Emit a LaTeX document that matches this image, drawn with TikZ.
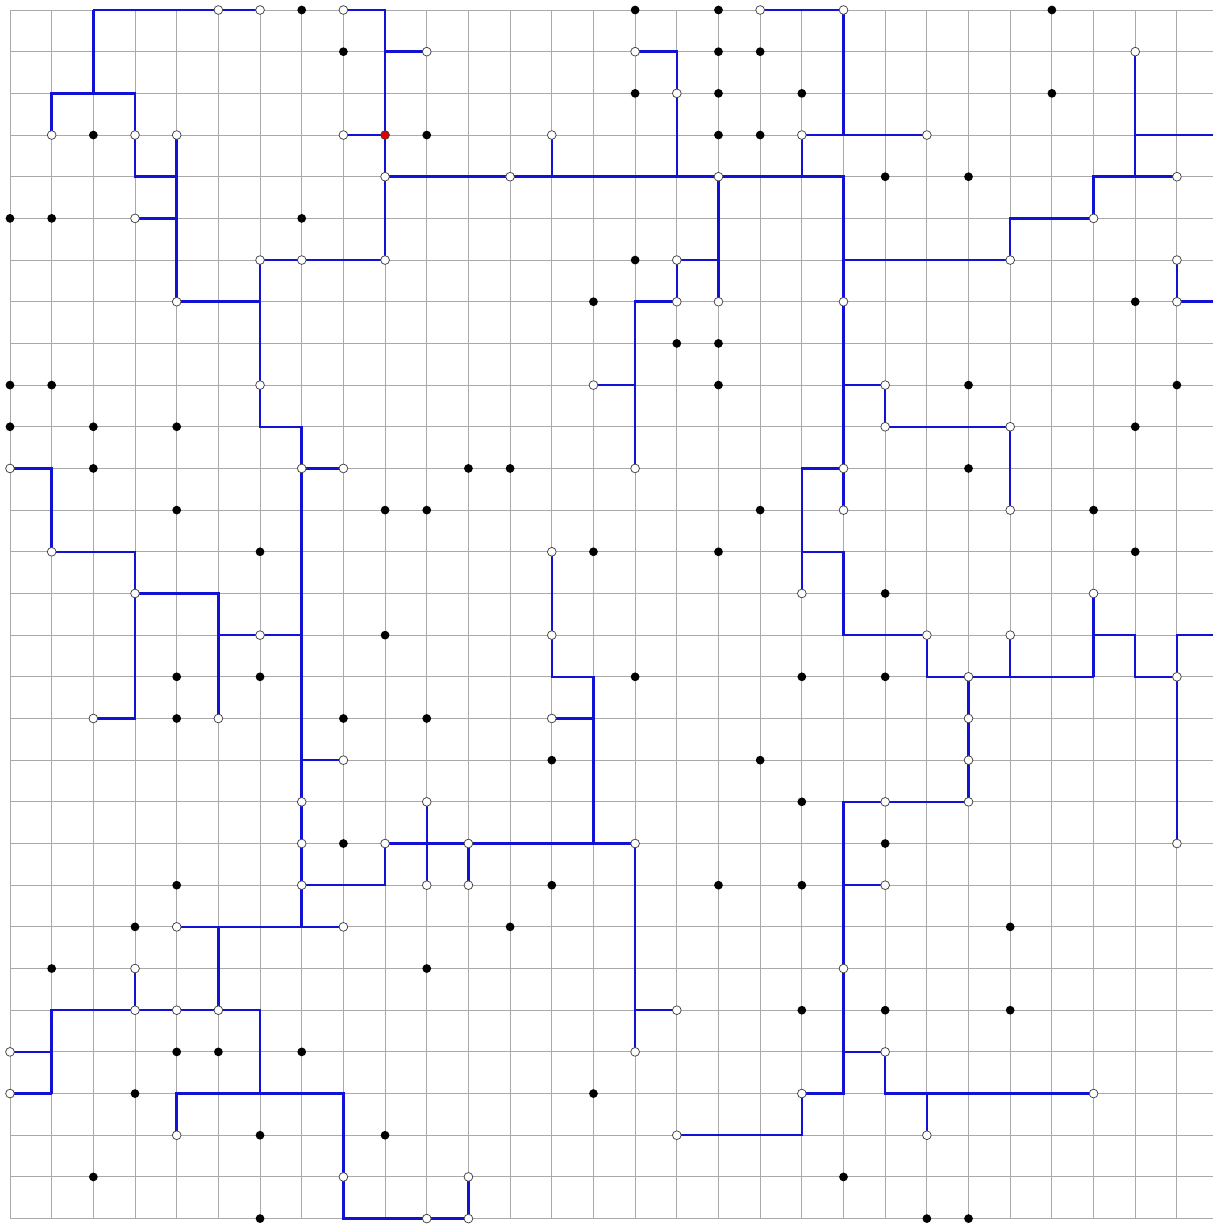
\documentclass[tikz,border=0pt]{standalone}
\begin{document}
\definecolor{gridgray}{RGB}{170,170,170}
\definecolor{pathblue}{RGB}{18,18,215}
\definecolor{dotred}{RGB}{225,0,0}
\begin{tikzpicture}[
  gridline/.style={draw=gridgray, line width=0.6pt},
  bl/.style={draw=pathblue, line width=1.7pt},
  wdot/.style={circle, inner sep=0pt, minimum size=0.21cm, draw=black!75, line width=0.5pt, fill=white},
  bdot/.style={circle, inner sep=0pt, minimum size=0.21cm, fill=black},
  rdot/.style={circle, inner sep=0pt, minimum size=0.21cm, draw=black!75, line width=0.5pt, fill=dotred}
]
\useasboundingbox (-0.24,0.24) rectangle (28.87,-29.13);
\fill[white] (-0.24,0.24) rectangle (28.87,-29.13);
% grid coordinates
\foreach \c in {0,...,28} {
  \foreach \r in {0,...,29} {
    \coordinate (g\c-\r) at (\c,-\r);
  }
}
\foreach \r in {0,...,29} { \coordinate (e-\r) at (28.87,-\r); }
% grid
\foreach \r in {0,...,29} { \draw[gridline] (g0-\r) -- (e-\r); }
\foreach \c in {0,...,28} { \draw[gridline] (g\c-0) -- (g\c-29); }
% blue paths
\draw[bl] (g2-0) -- (g6-0);
\draw[bl] (g2-0) -- (g2-2);
\draw[bl] (g1-3) -- (g1-2) -- (g3-2) -- (g3-4) -- (g4-4);
\draw[bl] (g4-3) -- (g4-7) -- (g6-7);
\draw[bl] (g3-5) -- (g4-5);
\draw[bl] (g9-6) -- (g6-6) -- (g6-10) -- (g7-10) -- (g7-22);
\draw[bl] (g8-0) -- (g9-0) -- (g9-6);
\draw[bl] (g9-1) -- (g10-1);
\draw[bl] (g8-3) -- (g9-3);
\draw[bl] (g9-4) -- (g20-4) -- (g20-12);
\draw[bl] (g13-3) -- (g13-4);
\draw[bl] (g15-1) -- (g16-1) -- (g16-4);
\draw[bl] (g17-4) -- (g17-7);
\draw[bl] (g17-6) -- (g16-6) -- (g16-7) -- (g15-7) -- (g15-11);
\draw[bl] (g14-9) -- (g15-9);
\draw[bl] (g18-0) -- (g20-0) -- (g20-3);
\draw[bl] (g19-4) -- (g19-3) -- (g22-3);
\draw[bl] (g20-6) -- (g24-6) -- (g24-5) -- (g26-5) -- (g26-4) -- (g28-4);
\draw[bl] (g27-1) -- (g27-4);
\draw[bl] (g27-3) -- (e-3);
\draw[bl] (g28-6) -- (g28-7) -- (e-7);
\draw[bl] (g20-9) -- (g21-9) -- (g21-10) -- (g24-10) -- (g24-12);
\draw[bl] (g20-11) -- (g19-11) -- (g19-14);
\draw[bl] (g19-13) -- (g20-13) -- (g20-15) -- (g22-15) -- (g22-16) -- (g26-16);
\draw[bl] (g24-15) -- (g24-16);
\draw[bl] (g26-14) -- (g26-16);
\draw[bl] (g26-15) -- (g27-15) -- (g27-16) -- (g28-16);
\draw[bl] (e-15) -- (g28-15) -- (g28-20);
\draw[bl] (g23-16) -- (g23-19) -- (g20-19) -- (g20-26) -- (g19-26) -- (g19-27) -- (g16-27);
\draw[bl] (g20-21) -- (g21-21);
\draw[bl] (g20-25) -- (g21-25) -- (g21-26) -- (g26-26);
\draw[bl] (g22-26) -- (g22-27);
\draw[bl] (g0-11) -- (g1-11) -- (g1-13) -- (g3-13) -- (g3-17) -- (g2-17);
\draw[bl] (g3-14) -- (g5-14) -- (g5-17);
\draw[bl] (g5-15) -- (g7-15);
\draw[bl] (g7-11) -- (g8-11);
\draw[bl] (g7-18) -- (g8-18);
\draw[bl] (g7-21) -- (g9-21) -- (g9-20) -- (g15-20) -- (g15-25);
\draw[bl] (g4-22) -- (g8-22);
\draw[bl] (g10-19) -- (g10-21);
\draw[bl] (g11-20) -- (g11-21);
\draw[bl] (g13-13) -- (g13-16) -- (g14-16) -- (g14-20);
\draw[bl] (g13-17) -- (g14-17);
\draw[bl] (g15-24) -- (g16-24);
\draw[bl] (g5-22) -- (g5-24);
\draw[bl] (g1-26) -- (g1-24) -- (g6-24) -- (g6-26);
\draw[bl] (g3-23) -- (g3-24);
\draw[bl] (g0-25) -- (g1-25);
\draw[bl] (g0-26) -- (g1-26);
\draw[bl] (g4-27) -- (g4-26) -- (g8-26) -- (g8-29) -- (g11-29) -- (g11-28);
% white dots
\foreach \c/\r in {5/0,6/0,8/0,18/0,20/0,
  10/1,15/1,27/1,
  16/2,
  1/3,3/3,4/3,8/3,13/3,19/3,22/3,
  9/4,12/4,17/4,28/4,
  3/5,26/5,
  6/6,7/6,9/6,16/6,24/6,28/6,
  4/7,16/7,17/7,20/7,28/7,
  6/9,14/9,21/9,
  21/10,24/10,
  0/11,7/11,8/11,15/11,20/11,
  20/12,24/12,
  1/13,13/13,
  3/14,19/14,26/14,
  6/15,13/15,22/15,24/15,
  23/16,28/16,
  2/17,5/17,13/17,23/17,
  8/18,23/18,
  7/19,10/19,21/19,23/19,
  7/20,9/20,11/20,15/20,28/20,
  7/21,10/21,11/21,21/21,
  4/22,8/22,
  3/23,20/23,
  3/24,4/24,5/24,16/24,
  0/25,15/25,21/25,
  0/26,19/26,26/26,
  4/27,16/27,22/27,
  8/28,11/28,
  10/29,11/29} {
  \node[wdot] (w-\c-\r) at (g\c-\r) {};
}
% black dots
\foreach \c/\r in {7/0,15/0,17/0,25/0,
  8/1,17/1,18/1,
  15/2,17/2,19/2,25/2,
  2/3,10/3,17/3,18/3,
  21/4,23/4,
  0/5,1/5,7/5,
  15/6,
  14/7,27/7,
  16/8,17/8,
  0/9,1/9,17/9,23/9,28/9,
  0/10,2/10,4/10,27/10,
  2/11,11/11,12/11,23/11,
  4/12,9/12,10/12,18/12,26/12,
  6/13,14/13,17/13,27/13,
  21/14,
  9/15,
  4/16,6/16,15/16,19/16,21/16,
  4/17,8/17,10/17,
  13/18,18/18,
  19/19,
  8/20,21/20,
  4/21,13/21,17/21,19/21,
  3/22,12/22,24/22,
  1/23,10/23,
  19/24,21/24,24/24,
  4/25,5/25,7/25,
  3/26,14/26,
  6/27,9/27,
  2/28,20/28,
  6/29,22/29,23/29} {
  \node[bdot] (b-\c-\r) at (g\c-\r) {};
}
% red dot
\node[rdot] (red) at (g9-3) {};
\end{tikzpicture}
\end{document}
